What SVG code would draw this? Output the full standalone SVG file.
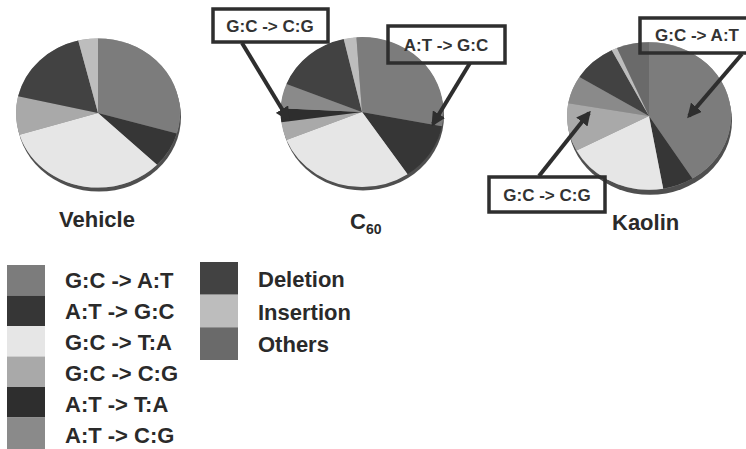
<svg xmlns="http://www.w3.org/2000/svg" width="746" height="449" viewBox="0 0 746 449">
<defs>
<style>
text{font-family:"Liberation Sans",Arial,sans-serif;font-weight:bold;fill:#2a2a2a}
.lbl{font-size:22px}
.leg{font-size:22px}
.cap{font-size:17px;fill:#333;text-anchor:middle}
.sl{fill:none;stroke-width:82}
.s1{stroke:#7c7c7c}.s2{stroke:#363636}.s3{stroke:#e6e6e6}.s4{stroke:#a9a9a9}.s5{stroke:#2e2e2e}
.s6{stroke:#8a8a8a}.s7{stroke:#424242}.s8{stroke:#bdbdbd}.s9{stroke:#6a6a6a}
.f1{fill:#7c7c7c}.f2{fill:#363636}.f3{fill:#e6e6e6}.f4{fill:#a9a9a9}.f5{fill:#2e2e2e}
.f6{fill:#8a8a8a}.f7{fill:#424242}.f8{fill:#bdbdbd}.f9{fill:#6a6a6a}
.rim{fill:#4f4f4f}
.box{fill:none;stroke:#2e2e2e;stroke-width:3.5}
.arr{stroke:#2e2e2e;stroke-width:4;marker-end:url(#ah)}
</style>
<marker id="ah" viewBox="0 0 10 10" refX="8" refY="5" markerWidth="3.6" markerHeight="3.6" orient="auto">
<path d="M0,0 L10,5 L0,10 z" fill="#2e2e2e"/>
</marker>
</defs>
<rect width="746" height="449" fill="#fff"/>

<g id="pie-vehicle">
<ellipse class="rim" cx="99" cy="117" rx="82" ry="74.6"/>
<g transform="translate(98,113) scale(1,0.91) rotate(-90)">
<circle r="82" fill="#999"/>
<circle class="sl s1" r="41" pathLength="360" stroke-dasharray="106 360" stroke-dashoffset="0"/>
<circle class="sl s2" r="41" pathLength="360" stroke-dasharray="28 360" stroke-dashoffset="-106"/>
<circle class="sl s3" r="41" pathLength="360" stroke-dasharray="119 360" stroke-dashoffset="-134"/>
<circle class="sl s4" r="41" pathLength="360" stroke-dasharray="30 360" stroke-dashoffset="-253"/>
<circle class="sl s7" r="41" pathLength="360" stroke-dasharray="63 360" stroke-dashoffset="-283"/>
<circle class="sl s8" r="41" pathLength="360" stroke-dasharray="14 360" stroke-dashoffset="-346"/>
</g>
<text class="lbl" x="97" y="227" text-anchor="middle">Vehicle</text>
</g>

<g id="pie-c60">
<ellipse class="rim" cx="363" cy="116" rx="81" ry="74.5"/>
<g transform="translate(362,112) scale(1,0.92) rotate(-90)">
<circle r="81" fill="#999"/>
<circle class="sl s1" r="40.5" stroke-width="81" pathLength="360" stroke-dasharray="101 360" stroke-dashoffset="0"/>
<circle class="sl s2" r="40.5" stroke-width="81" pathLength="360" stroke-dasharray="45 360" stroke-dashoffset="-101"/>
<circle class="sl s3" r="40.5" stroke-width="81" pathLength="360" stroke-dasharray="102 360" stroke-dashoffset="-146"/>
<circle class="sl s4" r="40.5" stroke-width="81" pathLength="360" stroke-dasharray="14 360" stroke-dashoffset="-248"/>
<circle class="sl s5" r="40.5" stroke-width="81" pathLength="360" stroke-dasharray="11 360" stroke-dashoffset="-262"/>
<circle class="sl s6" r="40.5" stroke-width="81" pathLength="360" stroke-dasharray="19 360" stroke-dashoffset="-273"/>
<circle class="sl s7" r="40.5" stroke-width="81" pathLength="360" stroke-dasharray="55 360" stroke-dashoffset="-292"/>
<circle class="sl s8" r="40.5" stroke-width="81" pathLength="360" stroke-dasharray="9 360" stroke-dashoffset="-347"/>
<circle class="sl s1" r="40.5" stroke-width="81" pathLength="360" stroke-dasharray="4 360" stroke-dashoffset="-356"/>
</g>
<text class="lbl" x="350" y="229">C<tspan font-size="14" dy="5">60</tspan></text>
</g>

<g id="pie-kaolin">
<ellipse class="rim" cx="650" cy="121" rx="82" ry="73.8"/>
<g transform="translate(649,116) scale(1,0.9) rotate(-90)">
<circle r="82" fill="#999"/>
<circle class="sl s1" r="41" pathLength="360" stroke-dasharray="148 360" stroke-dashoffset="0"/>
<circle class="sl s2" r="41" pathLength="360" stroke-dasharray="22 360" stroke-dashoffset="-148"/>
<circle class="sl s3" r="41" pathLength="360" stroke-dasharray="72 360" stroke-dashoffset="-170"/>
<circle class="sl s4" r="41" pathLength="360" stroke-dasharray="38 360" stroke-dashoffset="-242"/>
<circle class="sl s6" r="41" pathLength="360" stroke-dasharray="22 360" stroke-dashoffset="-280"/>
<circle class="sl s7" r="41" pathLength="360" stroke-dasharray="31 360" stroke-dashoffset="-302"/>
<circle class="sl s8" r="41" pathLength="360" stroke-dasharray="4 360" stroke-dashoffset="-333"/>
<circle class="sl s9" r="41" pathLength="360" stroke-dasharray="23 360" stroke-dashoffset="-337"/>
</g>
<text class="lbl" x="612" y="230">Kaolin</text>
</g>

<g id="connectors">
<line class="arr" x1="242" y1="43" x2="288" y2="119"/>
<line class="arr" x1="470" y1="63" x2="433" y2="124"/>
<line class="arr" x1="742" y1="54" x2="689" y2="116"/>
<line class="arr" x1="539" y1="176" x2="589" y2="113"/>
</g>

<g id="callout-c60-gccg">
<rect class="box" x="213" y="9" width="115" height="33"/>
<text class="cap" x="270" y="32">G:C -&gt; C:G</text>
</g>
<g id="callout-c60-atgc">
<rect class="box" x="388" y="26" width="117" height="37"/>
<text class="cap" x="446" y="51">A:T -&gt; G:C</text>
</g>
<g id="callout-kaolin-gcat">
<rect class="box" x="640" y="18" width="112" height="35"/>
<text class="cap" x="697" y="41">G:C -&gt; A:T</text>
</g>
<g id="callout-kaolin-gccg">
<rect class="box" x="489" y="177" width="116" height="35"/>
<text class="cap" x="547" y="201">G:C -&gt; C:G</text>
</g>

<g id="legend">
<rect class="f1" x="7" y="265" width="38" height="30.5"/>
<rect class="f2" x="7" y="295.5" width="38" height="30.5"/>
<rect class="f3" x="7" y="326" width="38" height="30.5"/>
<rect class="f4" x="7" y="356.5" width="38" height="30.5"/>
<rect class="f5" x="7" y="387" width="38" height="30.5"/>
<rect class="f6" x="7" y="417.5" width="38" height="31.5"/>
<text class="leg" x="65" y="288">G:C -&gt; A:T</text>
<text class="leg" x="65" y="319">A:T -&gt; G:C</text>
<text class="leg" x="65" y="350">G:C -&gt; T:A</text>
<text class="leg" x="65" y="381">G:C -&gt; C:G</text>
<text class="leg" x="65" y="412">A:T -&gt; T:A</text>
<text class="leg" x="65" y="443">A:T -&gt; C:G</text>
<rect class="f7" x="200" y="262" width="38" height="32.7"/>
<rect class="f8" x="200" y="294.7" width="38" height="32.6"/>
<rect class="f9" x="200" y="327.3" width="38" height="32.7"/>
<text class="leg" x="258" y="287">Deletion</text>
<text class="leg" x="258" y="320">Insertion</text>
<text class="leg" x="258" y="352">Others</text>
</g>
</svg>
